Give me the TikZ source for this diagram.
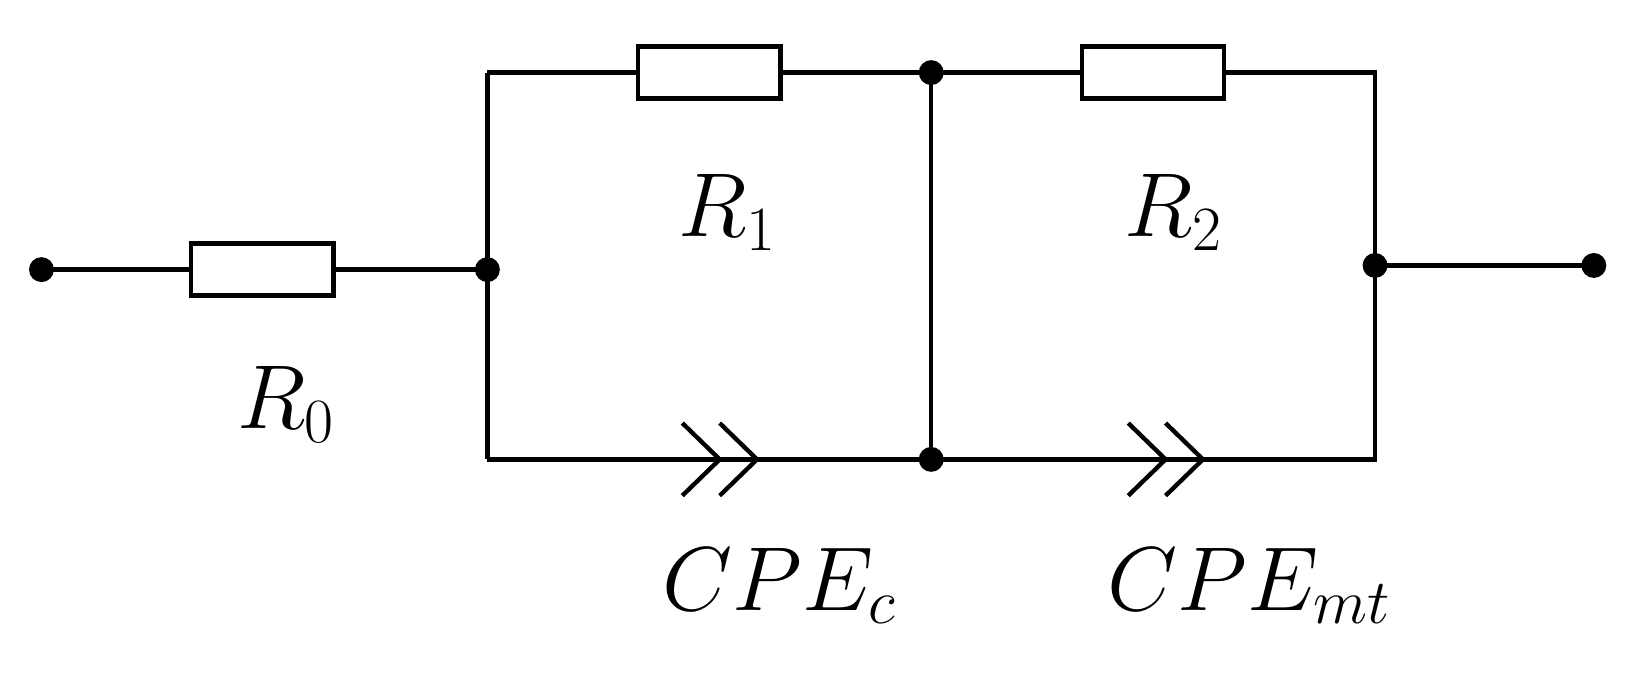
\documentclass[tikz,border=0pt]{standalone}
\begin{document}
\begin{tikzpicture}[x=0.01cm,y=-0.01cm,line width=1.2pt,
 res/.style={draw,rectangle,minimum width=1.37cm,minimum height=0.5cm,inner sep=0,fill=white},
 dot/.style={circle,fill,inner sep=0,minimum size=0.24cm},
 lab/.style={font=\fontsize{26}{30}\selectfont}]
\useasboundingbox (0,0) rectangle (1568,649);
\node[dot] (t1) at (40,260) {};
\node[dot] (n1) at (470,260) {};
\node[dot] (n2) at (898,70) {};
\node[dot] (n3) at (898,443) {};
\node[dot] (n4) at (1326,256) {};
\node[dot] (t2) at (1537,256) {};
\coordinate (tl) at (470,70);
\coordinate (bl) at (470,443);
\coordinate (tr) at (1326,70);
\coordinate (br) at (1326,443);
\draw (t1.center) -- (n1.center);
\node[res] (R0) at (253,260) {};
\draw (tl) -- (bl);
\draw (tl) -- (tr) -- (br) -- (bl);
\draw (n2.center) -- (n3.center);
\draw (n4.center) -- (t2.center);
\node[res] (R1) at (684,70) {};
\node[res] (R2) at (1112,70) {};
\foreach \x in {658,1088}{
 \draw (\x,408) -- (\x+36,443) -- (\x,478);
 \draw (\x+36,408) -- (\x+72,443) -- (\x+36,478);}
\node[lab] (l0) at (276,390) {$R_0$};
\node[lab] (l1) at (702,205) {$R_1$};
\node[lab] (l2) at (1132,205) {$R_2$};
\node[lab] (l3) at (752,565) {$CPE_c$};
\node[lab] (l4) at (1205,565) {$CPE_{mt}$};
\end{tikzpicture}
\end{document}
